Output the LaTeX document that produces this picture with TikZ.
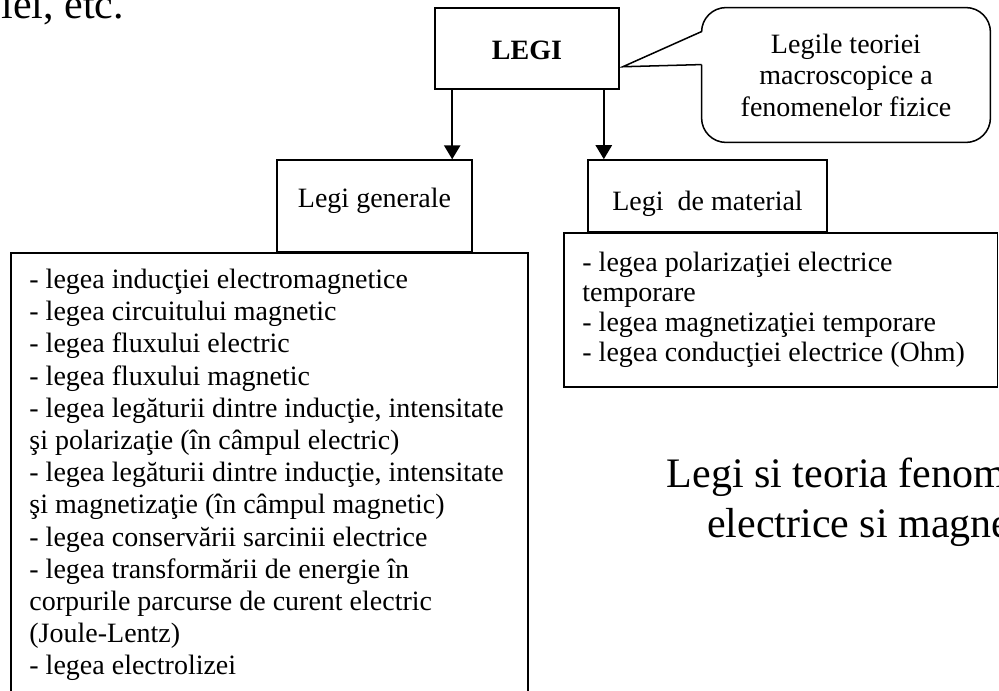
\documentclass[tikz,border=0pt]{standalone}
\usepackage{fontspec}
\setmainfont{Liberation Serif}
\usetikzlibrary{arrows.meta,calc}

\begin{document}
\begin{tikzpicture}[x=0.4286pt, y=-0.4286pt,
box/.style={draw, line width=0.65pt, inner sep=0pt, text depth=0pt, font=\fontsize{12}{13.8}\selectfont},
list/.style={draw, line width=0.65pt, anchor=north west, align=flush left, inner xsep=8pt},
arrow/.style={-{Triangle[width=7pt,length=6pt]}, line width=0.65pt},
line/.style={line width=0.65pt}
]
\useasboundingbox (0,0) rectangle (999,691);
\clip (0,0) rectangle (999,691);
\node[anchor=base west, inner sep=0pt, font=\fontsize{18}{21}\selectfont] (etc) at (1,18) {iei, etc.};
\node[box, text height=9pt, minimum width=78.9pt, minimum height=34.7pt] (legi) at (527,48.5) {\textbf{LEGI}};
\node[box, text height=1.7pt, minimum width=83.6pt, minimum height=39.4pt] (generale) at (374.5,206) {Legi generale};
\node[box, text height=12pt, minimum width=102.4pt, minimum height=30.9pt] (material) at (707.5,196) {Legi\ \ de material};
\node[list, inner ysep=7pt, text width=205.6pt, font=\fontsize{12}{13.8}\selectfont] (listgen) at (10,252) {%
- legea inducţiei electromagnetice\\
- legea circuitului magnetic\\
- legea fluxului electric\\
- legea fluxului magnetic\\
- legea legăturii dintre inducţie, intensitate\\
şi polarizaţie (în câmpul electric)\\
- legea legăturii dintre inducţie, intensitate\\
şi magnetizaţie (în câmpul magnetic)\\
- legea conservării sarcinii electrice\\
- legea transformării de energie în\\
corpurile parcurse de curent electric\\
(Joule-Lentz)\\
- legea electrolizei};
\node[list, inner ysep=0pt, text width=170pt, minimum height=66pt, font=\fontsize{12}{12.86}\selectfont] (listmat) at (563,232) {%
- legea polarizaţiei electrice\\
temporare\\
- legea magnetizaţiei temporare\\
- legea conducţiei electrice (Ohm)};
\node[align=center, inner sep=0pt, minimum width=123.4pt, minimum height=57.4pt, font=\fontsize{12}{13.5}\selectfont] (note) at (846,75) {Legile teoriei\\macroscopice a\\fenomenelor fizice};
\node[align=center, inner sep=0pt, font=\fontsize{18}{21.4}\selectfont] (theory) at (889,502) {Legi si teoria fenomenelor\\electrice si magnetice};
\coordinate (aL) at ($(legi.south west)+(18,0)$);
\coordinate (aR) at ($(legi.south east)+(-16,0)$);
\coordinate (tip) at ($(legi.south east)+(3,-23)$);
\draw[arrow] (aL) -- (aL |- generale.north);
\draw[arrow] (aR) -- (aR |- material.north);
\draw[line] ($(note.north west)+(0,24)$) -- (tip) -- ($(note.north west)+(0,57)$);
\draw[line, rounded corners=10.5pt] ($(note.north west)+(0,57)$) -- (note.south west) -- (note.south east) -- (note.north east) -- (note.north west) -- ($(note.north west)+(0,24)$);
\end{tikzpicture}
\end{document}
